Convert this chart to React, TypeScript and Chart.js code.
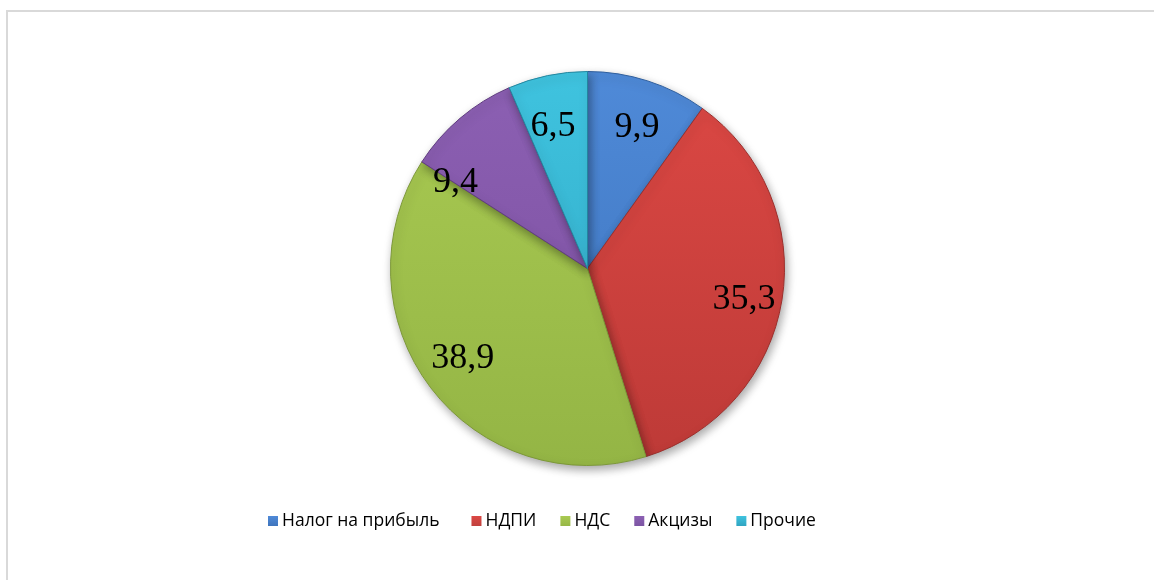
import React, { useEffect, useRef } from "react";
import { Chart, registerables } from "chart.js";

Chart.register(...registerables);

const categories = ["Налог на прибыль", "НДПИ", "НДС", "Акцизы", "Прочие"];
const values = [9.9, 35.3, 38.9, 9.4, 6.5];

const topColors = ["#4f8ad8", "#dc4844", "#a9ca52", "#8c60b3", "#3fc3df"];
const bottomColors = ["#3c72bb", "#bd3a37", "#94b545", "#7a4e9e", "#2fa6c2"];
const edgeColors = ["#2f5f9e", "#9c2f2c", "#7c9838", "#603c80", "#23869f"];
const legendColors = ["#3f74bc", "#c0413d", "#97b746", "#7c55a3", "#2fa4c1"];
const labelAngleAdjust = [1.5, 2, 1.5, -16.5, -2];
const labelRadius = [0.76, 0.81, 0.78, 0.8, 0.74];

const labelsPlugin = {
  id: "sliceLabels",
  afterDatasetsDraw(chart: any) {
    const ctx = chart.ctx;
    const meta = chart.getDatasetMeta(0);
    ctx.save();
    ctx.font = "36px 'Liberation Serif', 'Times New Roman', serif";
    ctx.fillStyle = "#000";
    ctx.textAlign = "center";
    ctx.textBaseline = "middle";
    meta.data.forEach((arc: any, i: number) => {
      const p = arc.getProps(["x", "y", "startAngle", "endAngle", "outerRadius"], true);
      const mid = (p.startAngle + p.endAngle) / 2 + (labelAngleAdjust[i] * Math.PI) / 180;
      const r = p.outerRadius * labelRadius[i];
      const txt = String(chart.data.datasets[0].data[i]).replace(".", ",");
      ctx.fillText(txt, p.x + Math.cos(mid) * r, p.y + Math.sin(mid) * r);
    });
    ctx.restore();
  },
};

const shadowPlugin = {
  id: "pieShadow",
  beforeDatasetsDraw(chart: any) {
    const ctx = chart.ctx;
    ctx.save();
    ctx.shadowColor = "rgba(0,0,0,0.35)";
    ctx.shadowBlur = 10;
    ctx.shadowOffsetX = 2;
    ctx.shadowOffsetY = 4;
  },
  afterDatasetsDraw(chart: any) {
    chart.ctx.restore();
  },
};

const legendPlugin = {
  id: "customLegend",
  afterDraw(chart: any) {
    const ctx = chart.ctx;
    ctx.save();
    ctx.font = "17.5px 'Open Sans', sans-serif";
    ctx.textBaseline = "middle";
    let x = 268;
    const y = 521;
    chart.data.labels.forEach((lab: string, i: number) => {
      const g = ctx.createLinearGradient(0, y - 5, 0, y + 5);
      g.addColorStop(0, topColors[i]);
      g.addColorStop(1, legendColors[i]);
      ctx.fillStyle = g;
      ctx.fillRect(x, y - 5, 10, 10);
      ctx.fillStyle = "#000";
      ctx.textAlign = "left";
      ctx.fillText(lab, x + 14, y);
      const w = ctx.measureText(lab).width;
      x += 14 + w + (i === 0 ? 32 : 24);
    });
    ctx.restore();
  },
};

export default function App() {
  const ref = useRef<HTMLCanvasElement>(null);
  useEffect(() => {
    if (!ref.current) return;
    const chart = new Chart(ref.current, {
      type: "pie",
      data: {
        labels: categories,
        datasets: [
          {
            data: values,
            backgroundColor: (c: any) => {
              const ca = c.chart.chartArea;
              if (!ca) return topColors[c.dataIndex];
              const g = c.chart.ctx.createLinearGradient(0, ca.top, 0, ca.bottom);
              g.addColorStop(0, topColors[c.dataIndex]);
              g.addColorStop(1, bottomColors[c.dataIndex]);
              return g;
            },
            borderColor: edgeColors,
            borderWidth: 1,
          },
        ],
      },
      options: {
        responsive: false,
        animation: false,
        layout: { padding: { top: 71, bottom: 114, left: 21, right: 0 } },
        plugins: {
          legend: { display: false },
          tooltip: { enabled: false },
        },
      },
      plugins: [shadowPlugin, labelsPlugin, legendPlugin],
    });
    return () => chart.destroy();
  }, []);
  return (
    <div style={{ position: "fixed", left: 0, top: 0, width: 1154, height: 580, background: "#fff" }}>
      <div
        style={{
          position: "absolute",
          left: 6,
          top: 10,
          width: 1160,
          height: 600,
          borderTop: "2px solid #d9d9d9",
          borderLeft: "2px solid #d9d9d9",
        }}
      />
      <canvas ref={ref} width={1154} height={580} style={{ position: "absolute", left: 0, top: 0 }} />
    </div>
  );
}
